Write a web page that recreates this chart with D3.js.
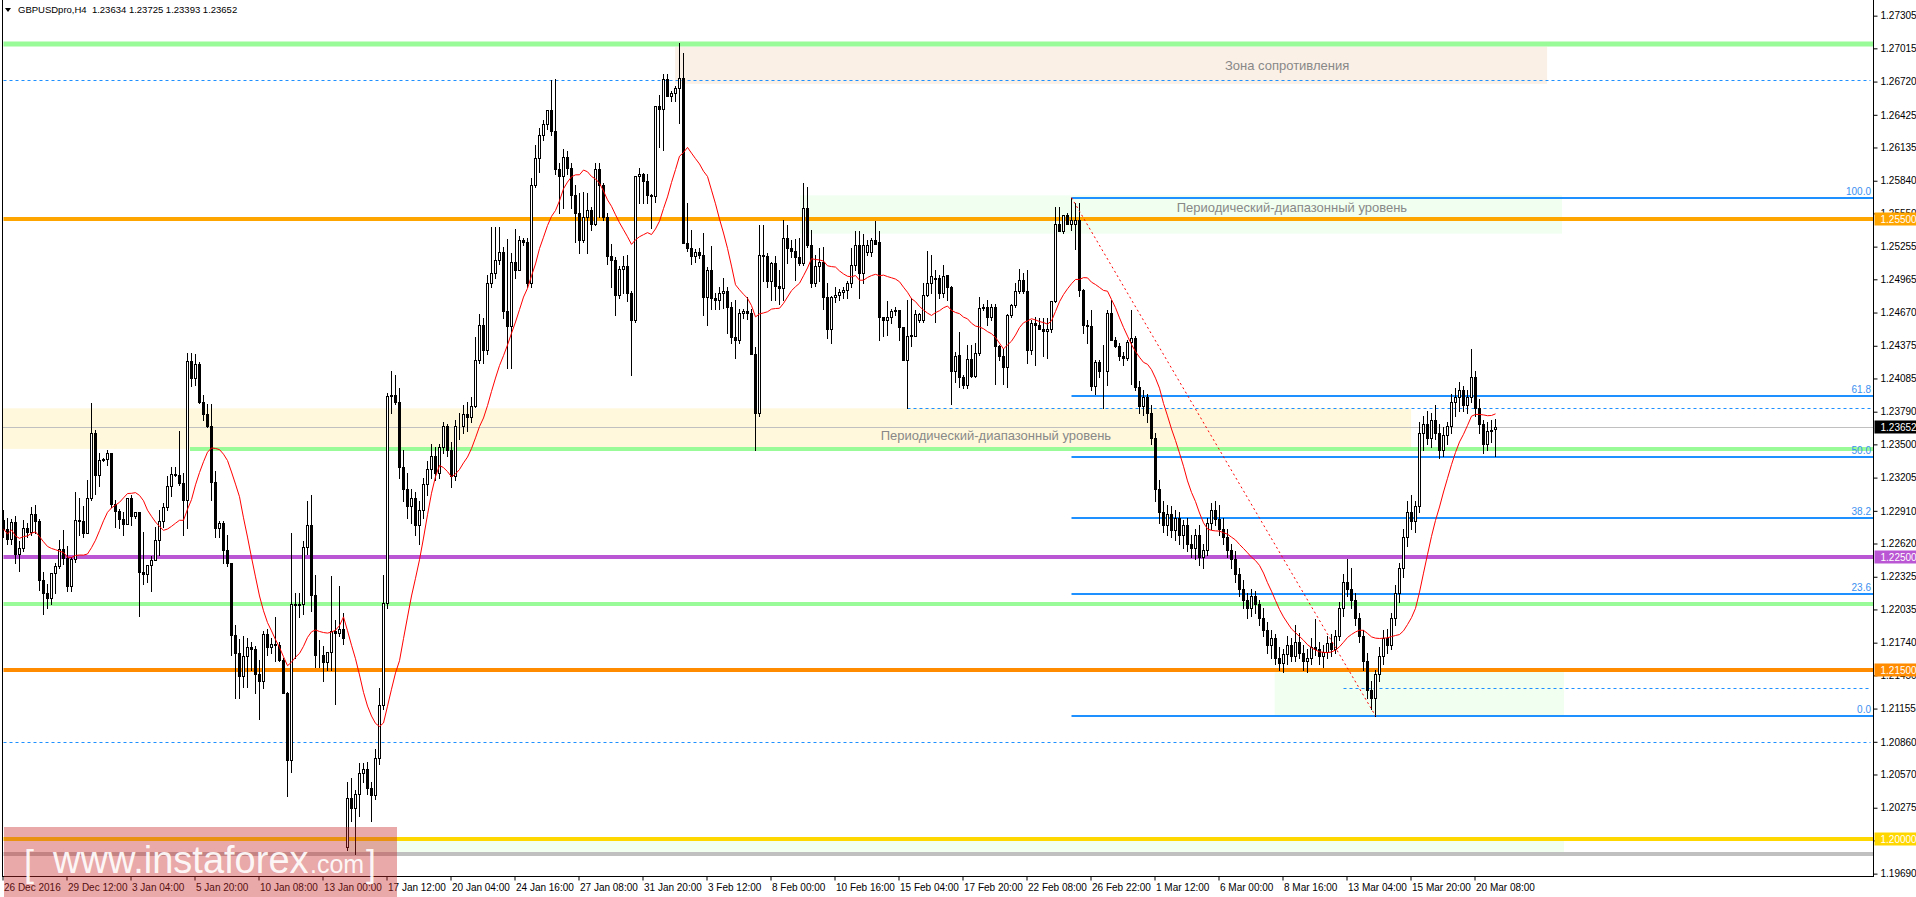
<!DOCTYPE html>
<html><head><meta charset="utf-8">
<script src="https://cdn.jsdelivr.net/npm/d3@7"></script>
<style>
html,body{margin:0;padding:0;background:#fff;overflow:hidden}
svg{display:block}
text{font-family:Tahoma,"Liberation Sans",Arial,sans-serif}
</style></head><body>
<svg id="c" width="1916" height="897"></svg>
<script>
// ---------- DATA ----------
const symbolTitle = "GBPUSDpro,H4  1.23634 1.23725 1.23393 1.23652";
// H4 candles [open, high, low, close]
const ohlc = [
[1.2283,1.2292,1.2268,1.2275],[1.2275,1.2285,1.2262,1.2266],[1.2266,1.2284,1.2262,1.2281],[1.2281,1.2286,1.2245,1.2253],
[1.2253,1.2264,1.2238,1.2258],[1.2258,1.2283,1.2255,1.2276],[1.2276,1.2280,1.2268,1.2272],[1.2272,1.2294,1.2270,1.2288],
[1.2288,1.2296,1.2271,1.2282],[1.2282,1.2284,1.2221,1.2230],[1.2230,1.2237,1.2199,1.2218],[1.2218,1.2226,1.2205,1.2214],
[1.2214,1.2236,1.2208,1.2236],[1.2236,1.2245,1.2218,1.2242],[1.2242,1.2265,1.2240,1.2257],[1.2257,1.2274,1.2244,1.2249],
[1.2249,1.2260,1.2220,1.2224],[1.2224,1.2250,1.2220,1.2248],[1.2248,1.2308,1.2246,1.2283],[1.2283,1.2302,1.2270,1.2282],
[1.2282,1.2295,1.2268,1.2271],[1.2271,1.2318,1.2271,1.2302],[1.2302,1.2387,1.2301,1.2360],[1.2360,1.2363,1.2306,1.2323],
[1.2323,1.2342,1.2313,1.2336],[1.2336,1.2338,1.2335,1.2337],[1.2337,1.2345,1.2332,1.2342],[1.2342,1.2342,1.2294,1.2297],
[1.2297,1.2301,1.2277,1.2291],[1.2291,1.2293,1.2276,1.2284],[1.2284,1.2290,1.2270,1.2279],[1.2279,1.2302,1.2279,1.2302],
[1.2302,1.2305,1.2278,1.2286],[1.2286,1.2290,1.2285,1.2290],[1.2290,1.2290,1.2198,1.2237],[1.2237,1.2272,1.2226,1.2235],
[1.2235,1.2243,1.2228,1.2243],[1.2243,1.2251,1.2220,1.2247],[1.2247,1.2277,1.2247,1.2265],[1.2265,1.2292,1.2252,1.2282],
[1.2282,1.2298,1.2277,1.2294],[1.2294,1.2322,1.2292,1.2313],[1.2313,1.2330,1.2304,1.2324],[1.2324,1.2330,1.2322,1.2323],
[1.2323,1.2362,1.2314,1.2316],[1.2316,1.2325,1.2270,1.2301],[1.2301,1.2431,1.2276,1.2424],[1.2424,1.2431,1.2402,1.2409],
[1.2409,1.2430,1.2403,1.2421],[1.2421,1.2423,1.2387,1.2388],[1.2388,1.2394,1.2372,1.2377],[1.2377,1.2386,1.2365,1.2366],
[1.2366,1.2386,1.2301,1.2317],[1.2317,1.2326,1.2268,1.2276],[1.2276,1.2282,1.2268,1.2280],[1.2280,1.2282,1.2245,1.2256],
[1.2256,1.2270,1.2242,1.2245],[1.2245,1.2245,1.2163,1.2181],[1.2181,1.2190,1.2125,1.2165],[1.2165,1.2177,1.2125,1.2144],
[1.2144,1.2180,1.2135,1.2162],[1.2162,1.2178,1.2135,1.2170],[1.2170,1.2175,1.2150,1.2168],[1.2168,1.2171,1.2129,1.2146],
[1.2146,1.2159,1.2106,1.2140],[1.2140,1.2184,1.2134,1.2182],[1.2182,1.2186,1.2163,1.2170],[1.2170,1.2178,1.2165,1.2173],
[1.2173,1.2197,1.2158,1.2172],[1.2172,1.2175,1.2158,1.2159],[1.2159,1.2160,1.2129,1.2129],[1.2129,1.2130,1.2038,1.2070],
[1.2070,1.2271,1.2059,1.2208],[1.2208,1.2218,1.2160,1.2207],[1.2207,1.2218,1.2197,1.2208],[1.2208,1.2264,1.2199,1.2259],
[1.2259,1.2300,1.2253,1.2278],[1.2278,1.2305,1.2202,1.2216],[1.2216,1.2234,1.2152,1.2163],[1.2163,1.2176,1.2152,1.2163],
[1.2163,1.2171,1.2140,1.2157],[1.2157,1.2165,1.2150,1.2166],[1.2166,1.2233,1.2150,1.2184],[1.2184,1.2194,1.2120,1.2183],
[1.2183,1.2224,1.2180,1.2186],[1.2186,1.2200,1.2173,1.2178],[1.1993,1.2050,1.1990,1.2036],[1.2036,1.2054,1.2016,1.2027],
[1.2027,1.2043,1.1986,1.2040],[1.2040,1.2067,1.2020,1.2058],[1.2058,1.2067,1.2050,1.2062],[1.2062,1.2068,1.2040,1.2045],
[1.2045,1.2050,1.2016,1.2039],[1.2039,1.2080,1.2035,1.2072],[1.2072,1.2134,1.2066,1.2119],[1.2119,1.2234,1.2115,1.2209],
[1.2209,1.2396,1.2205,1.2393],[1.2393,1.2415,1.2378,1.2394],[1.2394,1.2412,1.2386,1.2388],[1.2388,1.2400,1.2320,1.2330],
[1.2330,1.2345,1.2300,1.2310],[1.2310,1.2325,1.2285,1.2295],[1.2295,1.2310,1.2280,1.2302],[1.2302,1.2308,1.2270,1.2278],
[1.2278,1.2300,1.2262,1.2292],[1.2292,1.2320,1.2285,1.2315],[1.2315,1.2335,1.2305,1.2328],[1.2328,1.2350,1.2320,1.2340],
[1.2340,1.2348,1.2318,1.2325],[1.2325,1.2350,1.2320,1.2348],[1.2348,1.2370,1.2342,1.2366],[1.2366,1.2368,1.2340,1.2345],
[1.2345,1.2352,1.2312,1.2322],[1.2322,1.2372,1.2318,1.2366],[1.2366,1.2378,1.2355,1.2366],[1.2366,1.2385,1.2360,1.2377],
[1.2377,1.2388,1.2362,1.2374],[1.2374,1.2392,1.2370,1.2384],[1.2384,1.2445,1.2383,1.2425],[1.2425,1.2466,1.2422,1.2456],
[1.2456,1.2462,1.2422,1.2434],[1.2434,1.2500,1.2430,1.2493],[1.2493,1.2543,1.2490,1.2502],[1.2502,1.2543,1.2498,1.2514],
[1.2514,1.2543,1.2510,1.2521],[1.2521,1.2525,1.2462,1.2468],[1.2468,1.2532,1.2418,1.2455],[1.2455,1.2520,1.2418,1.2512],
[1.2512,1.2541,1.2498,1.2505],[1.2505,1.2535,1.2505,1.2531],[1.2531,1.2533,1.2527,1.2530],[1.2530,1.2533,1.2490,1.2493],
[1.2493,1.2586,1.2490,1.2580],[1.2580,1.2616,1.2578,1.2604],[1.2604,1.2631,1.2592,1.2625],[1.2625,1.2638,1.2620,1.2634],
[1.2634,1.2647,1.2630,1.2647],[1.2647,1.2673,1.2625,1.2628],[1.2628,1.2674,1.2590,1.2594],[1.2594,1.2600,1.2555,1.2588],
[1.2588,1.2612,1.2560,1.2605],[1.2605,1.2610,1.2590,1.2595],[1.2595,1.2600,1.2560,1.2571],[1.2571,1.2580,1.2530,1.2555],
[1.2555,1.2573,1.2520,1.2531],[1.2531,1.2574,1.2530,1.2552],[1.2552,1.2573,1.2520,1.2558],[1.2558,1.2561,1.2540,1.2546],
[1.2546,1.2600,1.2545,1.2594],[1.2594,1.2600,1.2552,1.2580],[1.2580,1.2582,1.2549,1.2552],[1.2552,1.2555,1.2510,1.2517],
[1.2517,1.2528,1.2490,1.2514],[1.2514,1.2516,1.2465,1.2483],[1.2483,1.2508,1.2480,1.2506],[1.2506,1.2517,1.2484,1.2508],
[1.2508,1.2518,1.2477,1.2484],[1.2484,1.2486,1.2412,1.2460],[1.2460,1.2588,1.2459,1.2588],[1.2588,1.2595,1.2564,1.2590],
[1.2590,1.2591,1.2564,1.2584],[1.2584,1.2590,1.2564,1.2571],[1.2571,1.2572,1.2542,1.2570],[1.2570,1.2650,1.2565,1.2650],
[1.2650,1.2660,1.2614,1.2648],[1.2648,1.2679,1.2611,1.2674],[1.2674,1.2679,1.2659,1.2659],[1.2659,1.2664,1.2655,1.2662],
[1.2662,1.2668,1.2655,1.2666],[1.2666,1.2706,1.2635,1.2675],[1.2675,1.2697,1.2529,1.2529],[1.2529,1.2564,1.2522,1.2524],
[1.2524,1.2540,1.2510,1.2517],[1.2517,1.2523,1.2512,1.2521],[1.2521,1.2524,1.2515,1.2518],[1.2518,1.2538,1.2465,1.2481],
[1.2481,1.2507,1.2456,1.2505],[1.2505,1.2526,1.2470,1.2480],[1.2480,1.2484,1.2470,1.2478],[1.2478,1.2490,1.2470,1.2484],
[1.2484,1.2498,1.2471,1.2486],[1.2486,1.2490,1.2449,1.2472],[1.2472,1.2476,1.2440,1.2445],[1.2445,1.2478,1.2427,1.2443],
[1.2443,1.2470,1.2440,1.2467],[1.2467,1.2470,1.2462,1.2468],[1.2468,1.2481,1.2461,1.2467],[1.2467,1.2470,1.2430,1.2430],
[1.2430,1.2436,1.2345,1.2378],[1.2378,1.2545,1.2375,1.2518],[1.2518,1.2545,1.2495,1.2517],[1.2517,1.2520,1.2490,1.2495],
[1.2495,1.2512,1.2478,1.2511],[1.2511,1.2517,1.2478,1.2491],[1.2491,1.2505,1.2475,1.2489],[1.2489,1.2549,1.2478,1.2533],
[1.2533,1.2545,1.2511,1.2524],[1.2524,1.2531,1.2516,1.2522],[1.2522,1.2532,1.2496,1.2516],[1.2516,1.2533,1.2509,1.2511],
[1.2511,1.2582,1.2509,1.2560],[1.2560,1.2578,1.2525,1.2527],[1.2527,1.2540,1.2490,1.2493],[1.2493,1.2518,1.2491,1.2508],
[1.2508,1.2524,1.2495,1.2512],[1.2512,1.2525,1.2470,1.2481],[1.2481,1.2493,1.2444,1.2452],[1.2452,1.2482,1.2440,1.2481],
[1.2481,1.2490,1.2476,1.2483],[1.2483,1.2488,1.2478,1.2485],[1.2485,1.2490,1.2480,1.2487],[1.2487,1.2495,1.2480,1.2493],
[1.2493,1.2524,1.2490,1.2509],[1.2509,1.2539,1.2505,1.2527],[1.2527,1.2539,1.2480,1.2502],[1.2502,1.2537,1.2493,1.2527],
[1.2521,1.2531,1.2518,1.2527],[1.2521,1.2533,1.2517,1.2531],[1.2531,1.2548,1.2528,1.2528],[1.2530,1.2539,1.2443,1.2463],
[1.2463,1.2463,1.2446,1.2460],[1.2460,1.2477,1.2447,1.2463],[1.2463,1.2470,1.2458,1.2468],[1.2468,1.2472,1.2465,1.2469],
[1.2469,1.2469,1.2443,1.2454],[1.2454,1.2454,1.2425,1.2425],[1.2425,1.2478,1.2382,1.2446],[1.2446,1.2480,1.2437,1.2447],
[1.2446,1.2469,1.2446,1.2466],[1.2460,1.2467,1.2459,1.2466],[1.2460,1.2493,1.2459,1.2483],[1.2483,1.2522,1.2482,1.2493],
[1.2493,1.2518,1.2484,1.2499],[1.2497,1.2505,1.2459,1.2498],[1.2498,1.2500,1.2480,1.2484],[1.2484,1.2509,1.2481,1.2499],
[1.2500,1.2500,1.2478,1.2490],[1.2490,1.2491,1.2386,1.2415],[1.2415,1.2432,1.2405,1.2428],[1.2429,1.2450,1.2401,1.2410],
[1.2410,1.2412,1.2400,1.2403],[1.2403,1.2438,1.2400,1.2426],[1.2426,1.2438,1.2410,1.2411],[1.2411,1.2440,1.2410,1.2431],
[1.2431,1.2481,1.2429,1.2471],[1.2471,1.2475,1.2469,1.2472],[1.2472,1.2478,1.2456,1.2463],[1.2463,1.2475,1.2460,1.2472],
[1.2472,1.2475,1.2404,1.2437],[1.2437,1.2438,1.2425,1.2428],[1.2428,1.2435,1.2404,1.2419],[1.2419,1.2466,1.2401,1.2465],
[1.2465,1.2475,1.2463,1.2474],[1.2474,1.2493,1.2472,1.2486],[1.2486,1.2506,1.2484,1.2496],[1.2496,1.2502,1.2484,1.2486],
[1.2486,1.2505,1.2422,1.2434],[1.2434,1.2460,1.2430,1.2458],[1.2458,1.2463,1.2420,1.2456],[1.2456,1.2462,1.2452,1.2452],
[1.2452,1.2462,1.2428,1.2451],[1.2451,1.2462,1.2427,1.2452],[1.2452,1.2477,1.2450,1.2477],[1.2477,1.2561,1.2476,1.2546],
[1.2546,1.2561,1.2539,1.2539],[1.2539,1.2554,1.2538,1.2554],[1.2554,1.2555,1.2546,1.2546],[1.2546,1.2569,1.2540,1.2549],
[1.2546,1.2564,1.2523,1.2549],[1.2549,1.2564,1.2482,1.2487],[1.2487,1.2488,1.2449,1.2456],[1.2456,1.2460,1.2440,1.2455],
[1.2455,1.2469,1.2398,1.2402],[1.2402,1.2425,1.2395,1.2423],[1.2423,1.2425,1.2410,1.2415],[1.2415,1.2438,1.2382,1.2415],
[1.2415,1.2469,1.2403,1.2467],[1.2467,1.2478,1.2443,1.2443],[1.2443,1.2445,1.2436,1.2437],[1.2437,1.2440,1.2425,1.2428],
[1.2428,1.2432,1.2420,1.2427],[1.2427,1.2443,1.2425,1.2441],[1.2441,1.2469,1.2404,1.2444],[1.2444,1.2446,1.2398,1.2401],
[1.2401,1.2406,1.2378,1.2384],[1.2384,1.2398,1.2376,1.2392],[1.2392,1.2395,1.2370,1.2378],[1.2378,1.2385,1.2350,1.2356],
[1.2356,1.2360,1.2300,1.2310],[1.2310,1.2318,1.2280,1.2290],[1.2290,1.2300,1.2272,1.2278],[1.2278,1.2296,1.2270,1.2288],
[1.2288,1.2295,1.2268,1.2274],[1.2274,1.2292,1.2265,1.2285],[1.2285,1.2290,1.2262,1.2270],[1.2270,1.2283,1.2258,1.2278],
[1.2278,1.2285,1.2255,1.2262],[1.2262,1.2270,1.2250,1.2258],[1.2258,1.2275,1.2248,1.2270],[1.2270,1.2278,1.2243,1.2250],
[1.2250,1.2262,1.2240,1.2256],[1.2256,1.2285,1.2252,1.2280],[1.2280,1.2298,1.2275,1.2292],[1.2292,1.2300,1.2278,1.2284],
[1.2284,1.2296,1.2270,1.2275],[1.2275,1.2285,1.2262,1.2268],[1.2268,1.2275,1.2250,1.2256],[1.2256,1.2262,1.2240,1.2248],
[1.2248,1.2255,1.2228,1.2235],[1.2235,1.2240,1.2215,1.2222],[1.2222,1.2230,1.2205,1.2212],[1.2212,1.2218,1.2196,1.2205],
[1.2205,1.2222,1.2198,1.2215],[1.2215,1.2220,1.2200,1.2208],[1.2208,1.2212,1.2190,1.2196],[1.2196,1.2205,1.2180,1.2185],
[1.2185,1.2192,1.2165,1.2172],[1.2172,1.2185,1.2160,1.2178],[1.2178,1.2182,1.2155,1.2160],[1.2160,1.2170,1.2150,1.2156],
[1.2156,1.2168,1.2148,1.2164],[1.2164,1.2180,1.2155,1.2172],[1.2172,1.2178,1.2158,1.2162],[1.2162,1.2190,1.2158,1.2175],
[1.2175,1.2183,1.2160,1.2165],[1.2165,1.2172,1.2150,1.2158],[1.2158,1.2168,1.2148,1.2160],[1.2160,1.2178,1.2155,1.2170],
[1.2170,1.2195,1.2163,1.2168],[1.2168,1.2175,1.2155,1.2162],[1.2162,1.2172,1.2152,1.2166],[1.2166,1.2180,1.2160,1.2174],
[1.2174,1.2182,1.2162,1.2168],[1.2168,1.2185,1.2165,1.2180],[1.2180,1.2210,1.2176,1.2205],[1.2205,1.2235,1.2198,1.2228],
[1.2228,1.2248,1.2215,1.2222],[1.2222,1.2240,1.2205,1.2212],[1.2212,1.2218,1.2190,1.2196],[1.2196,1.2200,1.2175,1.2180],
[1.2180,1.2185,1.2150,1.2158],[1.2158,1.2165,1.2125,1.2132],[1.2132,1.2140,1.2115,1.2125],[1.2125,1.2150,1.2109,1.2146],
[1.2146,1.2170,1.2140,1.2162],[1.2162,1.2185,1.2155,1.2178],[1.2178,1.2186,1.2165,1.2172],[1.2172,1.2200,1.2168,1.2196],
[1.2196,1.2225,1.2190,1.2218],[1.2218,1.2245,1.2210,1.2240],[1.2240,1.2275,1.2232,1.2268],[1.2268,1.2300,1.2260,1.2290],
[1.2290,1.2305,1.2275,1.2282],[1.2282,1.2300,1.2272,1.2295],[1.2295,1.2370,1.2290,1.2360],[1.2360,1.2375,1.2345,1.2368],
[1.2368,1.2380,1.2350,1.2356],[1.2356,1.2378,1.2348,1.2372],[1.2372,1.2385,1.2355,1.2360],[1.2360,1.2368,1.2338,1.2345],
[1.2345,1.2365,1.2340,1.2358],[1.2358,1.2370,1.2350,1.2366],[1.2366,1.2395,1.2360,1.2388],[1.2388,1.2400,1.2375,1.2392],
[1.2392,1.2405,1.2380,1.2398],[1.2398,1.2402,1.2380,1.2385],[1.2385,1.2398,1.2378,1.2392],[1.2392,1.2435,1.2388,1.2410],
[1.2410,1.2415,1.2375,1.2382],[1.2382,1.2390,1.2360,1.2368],[1.2368,1.2372,1.2342,1.2350],[1.2350,1.2370,1.2345,1.2362],
[1.2362,1.2372,1.2352,1.2363],[1.23634,1.23725,1.23393,1.23652]
];
const maPeriod = 14;
const timeLabels = ["26 Dec 2016","29 Dec 12:00","3 Jan 04:00","5 Jan 20:00","10 Jan 08:00","13 Jan 00:00",
  "17 Jan 12:00","20 Jan 04:00","24 Jan 16:00","27 Jan 08:00","31 Jan 20:00","3 Feb 12:00","8 Feb 00:00",
  "10 Feb 16:00","15 Feb 04:00","17 Feb 20:00","22 Feb 08:00","26 Feb 22:00","1 Mar 12:00","6 Mar 00:00",
  "8 Mar 16:00","13 Mar 04:00","15 Mar 20:00","20 Mar 08:00"];
const labelEvery = 16;
const priceTicks = [1.27305,1.27015,1.26720,1.26425,1.26135,1.25840,1.25550,1.25255,1.24965,1.24670,1.24375,
  1.24085,1.23790,1.23500,1.23205,1.22910,1.22620,1.22325,1.22035,1.21740,1.21450,1.21155,1.20860,1.20570,
  1.20275,1.19985,1.19690];
const levelPrices = [1.2705, 1.2550, 1.2346, 1.2250, 1.2208, 1.2150, 1.2000, 1.1986];
const levelStart  = [0, 0, 46.6, 0, 0, 0, 0, 0];
const levelColors = ["#98fb98","#ffa500","#98fb98","#ba55d3","#98fb98","#ff8c00","#ffd700","#c0c0c0"];
const levelBoxed  = [false, true, false, true, false, true, true, false];
const dashPrices = [1.2673, 1.2382, 1.2134, 1.2086];
const dashStart  = [0, 226, 335, 0];
const zoneStart = [167.9, 199.1, -2, 317.8, 86];
const zoneEnd   = [385.9, 389.6, 351.9, 390.1, 390.1];
const zoneTop   = [1.2703, 1.2571, 1.2382, 1.2151, 1.2000];
const zoneBottom= [1.2670, 1.2537, 1.2346, 1.2108, 1.1986];
const zoneFill  = ["#faf0e6","#f0fff0","#fff8dc","#f0fff0","#f0fff0"];
const zoneText  = ["Зона сопротивления","Периодический-диапазонный уровень","Периодический-диапазонный уровень"];
const zoneTextAt = [[320.9,1.26861],[322.1,1.25601],[248.1,1.23583]];
const fibHigh = 1.2569, fibLow = 1.2109, fibFrom = 267, fibTo = 343;
const fibLevels = [100.0, 61.8, 50.0, 38.2, 23.6, 0.0];
const currentPrice = 1.23652;

// ---------- SCALES ----------
const svg = d3.select("#c");
const plotR = 1873.5, plotB = 876;
const x = d3.scaleLinear().domain([0, 467.5]).range([3.5, plotR]);
const y = d3.scaleLinear().domain([1.19669, 1.27444]).range([plotB, 0]);

svg.append("defs").append("clipPath").attr("id","clip")
  .append("rect").attr("x",3).attr("y",0).attr("width",plotR-3.5).attr("height",plotB);
const plot = svg.append("g").attr("clip-path","url(#clip)");

// zones
plot.selectAll("rect.zone").data(zoneStart).join("rect")
  .attr("x",(d,i)=>x(d)).attr("width",(d,i)=>x(zoneEnd[i])-x(d))
  .attr("y",(d,i)=>y(zoneTop[i])).attr("height",(d,i)=>y(zoneBottom[i])-y(zoneTop[i]))
  .attr("fill",(d,i)=>zoneFill[i]);

// level lines
plot.selectAll("line.level").data(levelPrices).join("line")
  .attr("x1",(d,i)=>x(levelStart[i])).attr("x2",plotR)
  .attr("y1",d=>Math.round(y(d))).attr("y2",d=>Math.round(y(d)))
  .attr("stroke",(d,i)=>levelColors[i]).attr("stroke-width",(d,i)=>i===0?5:4);

// dashed lines
plot.selectAll("line.dash").data(dashPrices).join("line")
  .attr("x1",(d,i)=>x(dashStart[i])).attr("x2",plotR-3)
  .attr("y1",d=>Math.round(y(d))+0.5).attr("y2",d=>Math.round(y(d))+0.5)
  .attr("stroke","#1e90ff").attr("stroke-width",1).attr("stroke-dasharray","3,3");

// current price line
plot.append("line").attr("x1",3).attr("x2",plotR)
  .attr("y1",Math.round(y(currentPrice))+0.5).attr("y2",Math.round(y(currentPrice))+0.5)
  .attr("stroke","#c0c0c0").attr("stroke-width",1);

// fib lines
const fibP = l => fibLow + (fibHigh-fibLow)*l/100;
plot.selectAll("line.fib").data(fibLevels).join("line")
  .attr("x1",x(fibFrom)).attr("x2",plotR)
  .attr("y1",d=>Math.round(y(fibP(d)))).attr("y2",d=>Math.round(y(fibP(d))))
  .attr("stroke","#1e90ff").attr("stroke-width",2);

// candles
const bars = ohlc.map((d,i)=>({i,o:d[0],h:Math.max(d[0],d[1],d[3]),l:Math.min(d[0],d[2],d[3]),c:d[3]}));
plot.selectAll("line.wick").data(bars).join("line")
  .attr("x1",d=>x(d.i)).attr("x2",d=>x(d.i))
  .attr("y1",d=>Math.round(y(d.h))).attr("y2",d=>Math.round(y(d.l))+1)
  .attr("stroke","#000").attr("stroke-width",1);
plot.selectAll("rect.body").data(bars).join("rect")
  .attr("x",d=>x(d.i)-1).attr("width",2)
  .attr("y",d=>Math.round(y(Math.max(d.o,d.c)))+0.5)
  .attr("height",d=>Math.max(0,Math.round(y(Math.min(d.o,d.c)))-Math.round(y(Math.max(d.o,d.c)))))
  .attr("fill",d=>d.c>=d.o?"#fff":"#000").attr("stroke","#000").attr("stroke-width",1);

// moving average
const closes = bars.map(b=>b.c);
const ma = closes.map((c,i)=>d3.mean(closes.slice(Math.max(0,i-maPeriod+1),i+1)));
plot.append("path").datum(ma)
  .attr("d",d3.line().x((d,i)=>x(i)).y(d=>y(d)))
  .attr("fill","none").attr("stroke","#ff0000").attr("stroke-width",1);

// fib trend line
plot.append("line").attr("x1",x(fibFrom)).attr("y1",y(fibHigh)).attr("x2",x(fibTo)).attr("y2",y(fibLow))
  .attr("stroke","#ff0000").attr("stroke-width",1).attr("stroke-dasharray","2,3");

// zone texts
plot.selectAll("text.zt").data(zoneText).join("text")
  .attr("x",(d,i)=>x(zoneTextAt[i][0])).attr("y",(d,i)=>y(zoneTextAt[i][1])+4.5)
  .attr("text-anchor","middle").attr("font-size","13px").attr("fill","#888")
  .text(d=>d);

// fib labels
svg.selectAll("text.fl").data(fibLevels).join("text")
  .attr("x",1871).attr("y",d=>Math.round(y(fibP(d)))-3)
  .attr("text-anchor","end").attr("font-size","10px").attr("fill","#3b8ff0")
  .text(d=>d.toFixed(1));

// ---------- AXES ----------
const yAxis = d3.axisRight(y).tickValues(priceTicks).tickFormat(d3.format(".5f")).tickSize(4).tickSizeOuter(0);
const gy = svg.append("g").attr("transform",`translate(${plotR},0)`).call(yAxis);
gy.select(".domain").remove();
gy.selectAll("text").attr("font-size","10px").attr("fill","#000").attr("font-family","Tahoma,'Liberation Sans',Arial");
gy.selectAll("line").attr("stroke","#000");

const tickIdx = timeLabels.map((t,k)=>k*labelEvery);
const xAxis = d3.axisBottom(x).tickValues(tickIdx).tickFormat((d,k)=>timeLabels[k]).tickSize(4).tickSizeOuter(0);
const gx = svg.append("g").attr("transform",`translate(-1,${plotB+0.5})`).call(xAxis);
gx.select(".domain").remove();
gx.selectAll("text").attr("text-anchor","start").attr("x",1).attr("font-size","10px").attr("fill","#000")
  .attr("font-family","Tahoma,'Liberation Sans',Arial");
gx.selectAll("line").attr("stroke","#000");

// frame
svg.append("line").attr("x1",2.5).attr("x2",2.5).attr("y1",0).attr("y2",plotB+1).attr("stroke","#000");
svg.append("line").attr("x1",plotR).attr("x2",plotR).attr("y1",0).attr("y2",plotB+1).attr("stroke","#000");
svg.append("line").attr("x1",2.5).attr("x2",plotR).attr("y1",plotB+0.5).attr("y2",plotB+0.5).attr("stroke","#000");

// price label boxes
const boxes = levelPrices.map((p,i)=>({p,c:levelColors[i],b:levelBoxed[i]})).filter(d=>d.b);
boxes.push({p:currentPrice,c:"#000",b:true});
const gb = svg.append("g");
gb.selectAll("rect").data(boxes).join("rect")
  .attr("x",plotR+1).attr("width",1916-plotR).attr("y",d=>Math.round(y(d.p))-6.5).attr("height",13)
  .attr("fill",d=>d.c);
gb.selectAll("text").data(boxes).join("text")
  .attr("x",1880.5).attr("y",d=>Math.round(y(d.p))+3.5).attr("font-size","10px").attr("fill","#fff")
  .text(d=>d3.format(".5f")(d.p));

// header
svg.append("path").attr("d","M5,8 L11,8 L8,12 Z").attr("fill","#000");
svg.append("text").attr("x",18).attr("y",13).attr("font-size","9.5px").attr("fill","#000")
  .attr("xml:space","preserve").style("white-space","pre").text(symbolTitle);

// watermark
const wm = svg.append("g");
wm.append("rect").attr("x",4).attr("y",827).attr("width",393).attr("height",70).attr("fill","rgba(200,40,40,0.4)");
const wt = wm.append("g").attr("fill","#fff").attr("fill-opacity",0.92).attr("font-family","'Liberation Sans',Arial");
wt.append("text").attr("x",24).attr("y",876).attr("font-size","36px").attr("font-weight","300").text("[");
wt.append("text").attr("x",53).attr("y",873).attr("font-size","38px").text("www.instaforex");
wt.append("text").attr("x",310).attr("y",873).attr("font-size","25px").text(".com");
wt.append("text").attr("x",366).attr("y",876).attr("font-size","36px").text("]");
</script>
</body></html>
